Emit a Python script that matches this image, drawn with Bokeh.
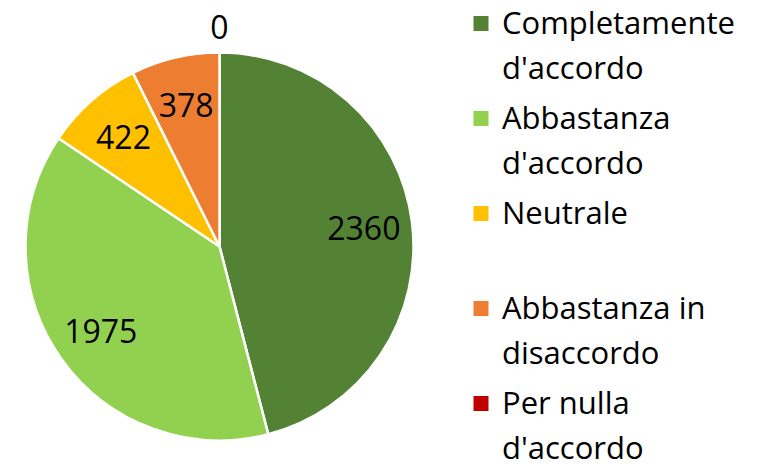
import math
from bokeh.plotting import figure
from bokeh.models import Range1d, ColumnDataSource
from bokeh.core.properties import value
from bokeh.embed import file_html
from bokeh.resources import INLINE

# ---- data ----
categories = ["Completamente d'accordo", "Abbastanza d'accordo", "Neutrale",
              "Abbastanza in disaccordo", "Per nulla d'accordo"]
legend_lines = [["Completamente", "d'accordo"], ["Abbastanza", "d'accordo"], ["Neutrale"],
                ["Abbastanza in", "disaccordo"], ["Per nulla", "d'accordo"]]
counts = [2360, 1975, 422, 378, 0]
colors = ["#548235", "#92D050", "#FFC000", "#ED7D31", "#C00000"]

# ---- layout (pixel units: 1 data unit = 1 px) ----
W, H = 765, 469
CX, CY, R = 219, 223, 194
FONT = "Open Sans"
FS = "32px"
LFS = "31px"

p = figure(width=W, height=H, x_range=Range1d(0, W), y_range=Range1d(0, H),
           output_backend="svg", toolbar_location=None, min_border=0,
           x_axis_location=None, y_axis_location=None)
p.grid.visible = False
p.outline_line_color = None
p.background_fill_color = "white"
p.border_fill_color = "white"

total = sum(counts)
starts, ends, mids = [], [], []
cum = 0.0
for c in counts:
    a0 = cum / total * 2 * math.pi
    cum += c
    a1 = cum / total * 2 * math.pi
    starts.append(a0); ends.append(a1); mids.append((a0 + a1) / 2)

wx, wy, ws, we, wc = [], [], [], [], []
for c, a0, a1, col in zip(counts, starts, ends, colors):
    if c <= 0:
        continue
    wx.append(CX); wy.append(CY)
    ws.append(math.pi / 2 - a0); we.append(math.pi / 2 - a1); wc.append(col)
p.wedge(x="x", y="y", radius=R, start_angle="s", end_angle="e", direction="clock",
        fill_color="c", line_color="white", line_width=2.5,
        source=ColumnDataSource(dict(x=wx, y=wy, s=ws, e=we, c=wc)))

# data labels
lx, ly, lt = [], [], []
for c, m in zip(counts, mids):
    r = 0.75 * R if c > 0 else R + 26
    lx.append(CX + r * math.sin(m))
    ly.append(CY + r * math.cos(m))
    lt.append(str(c))
p.text(x="x", y="y", text="t", source=ColumnDataSource(dict(x=lx, y=ly, t=lt)),
       text_font=value(FONT), text_font_size=FS, text_color="#000000",
       text_align="center", text_baseline="middle")

# legend
SQ = 15
LEG_X = 480.5
ENTRY_TOP = H - 23
ENTRY_STEP = 95
LINE_STEP = 45.5
rx, ry, rc = [], [], []
tx, ty, tt = [], [], []
for i, (lines, col) in enumerate(zip(legend_lines, colors)):
    yc = ENTRY_TOP - i * ENTRY_STEP
    rx.append(LEG_X); ry.append(yc); rc.append(col)
    for j, ln in enumerate(lines):
        tx.append(LEG_X + 21); ty.append(yc + 2 - j * LINE_STEP); tt.append(ln)
p.rect(x="x", y="y", width=SQ, height=SQ, fill_color="c", line_color=None,
       source=ColumnDataSource(dict(x=rx, y=ry, c=rc)))
p.text(x="x", y="y", text="t", source=ColumnDataSource(dict(x=tx, y=ty, t=tt)),
       text_font=value(FONT), text_font_size=LFS, text_color="#000000",
       text_align="left", text_baseline="middle")

open("out.html", "w").write(file_html(p, INLINE))
